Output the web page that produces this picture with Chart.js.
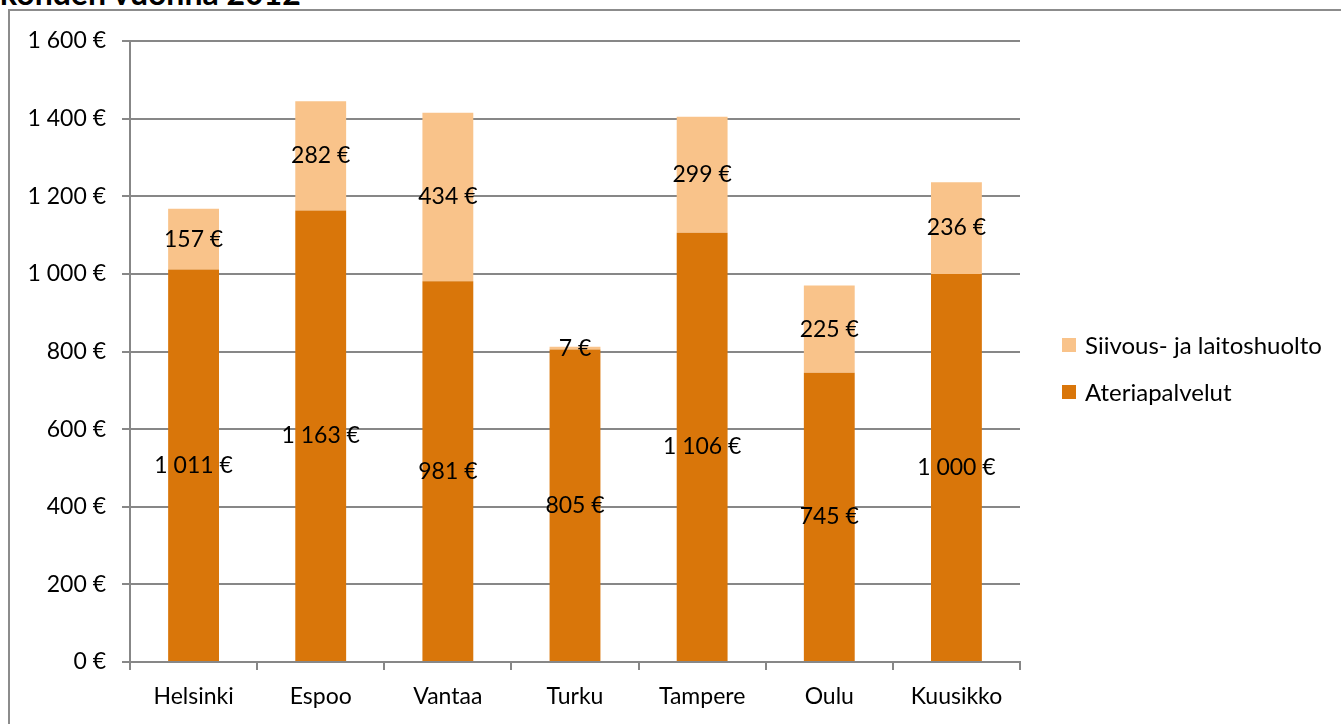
<!DOCTYPE html>
<html>
<head>
<meta charset="utf-8">
<script src="https://cdn.jsdelivr.net/npm/chart.js@4/dist/chart.umd.min.js"></script>
<style>
  body { margin: 0; background: #fff; font-family: Lato, "Open Sans", sans-serif; }
  #wrap { position: relative; width: 1341px; height: 724px; overflow: hidden; }
  #frame { position: absolute; left: 8px; top: 9px; width: 1400px; height: 800px; border: 2px solid #8c8c8c; box-sizing: border-box; }
  #title { position: absolute; left: 0; top: -26px; font: bold 32px/38px Lato, sans-serif; color: #000; white-space: nowrap; }
  #chartBox { position: absolute; left: 0; top: 0; width: 1341px; height: 724px; }
  #legend { position: absolute; left: 1062px; top: 330px; font: 24px/30px Lato, sans-serif; color: #000; }
  #legend div { height: 47px; display: flex; align-items: flex-start; }
  #legend span.box { display: inline-block; width: 14px; height: 14px; margin: 8px 9px 0 0; }
</style>
</head>
<body>
<div id="wrap">
  <div id="frame"></div>
  <div id="title">kohden vuonna 2012</div>
  <div id="chartBox"><canvas id="chartCosts" width="1341" height="724"></canvas></div>
  <div id="legend"></div>
</div>
<script>
const cities = ["Helsinki", "Espoo", "Vantaa", "Turku", "Tampere", "Oulu", "Kuusikko"]
const ateriapalvelut = [1011, 1163, 981, 805, 1106, 745, 1000]
const siivous = [157, 282, 434, 7, 299, 225, 236]
const yTicks = [0, 200, 400, 600, 800, 1000, 1200, 1400, 1600]

const ctx = document.getElementById("chartCosts")

function euro(v) {
    // "1 600 €" style, space as thousands separator
    return String(v).replace(/\B(?=(\d{3})+(?!\d))/g, " ") + " €"
}

// labels in the middle of each bar segment, like the excel original
const segmentLabels = {
    id: "segmentLabels",
    afterDatasetsDraw(chart) {
        const c = chart.ctx
        c.save()
        c.font = "23px Lato, sans-serif"
        c.fillStyle = "#000"
        c.textAlign = "center"
        c.textBaseline = "middle"
        chart.data.datasets.forEach((ds, i) => {
            chart.getDatasetMeta(i).data.forEach((bar, j) => {
                c.fillText(euro(ds.data[j]), bar.x, (bar.y + bar.base) / 2)
            })
        })
        c.restore()
    }
}

const grey = "#878787"

const costChart = new Chart(ctx, {
    type: "bar",
    data: {
        labels: cities,
        datasets: [
            { label: "Ateriapalvelut", data: ateriapalvelut, backgroundColor: "#D9760A" },
            { label: "Siivous- ja laitoshuolto", data: siivous, backgroundColor: "#F9C38A" }
        ]
    },
    options: {
        responsive: false,
        maintainAspectRatio: false,
        animation: false,
        layout: { padding: { left: 0, top: 41, right: 321, bottom: 0 } },
        datasets: { bar: { barPercentage: 0.4, categoryPercentage: 1.0 } },
        plugins: { legend: { display: false }, tooltip: { enabled: false } },
        scales: {
            x: {
                stacked: true,
                border: { color: grey, width: 2 },
                grid: { drawOnChartArea: false, drawTicks: true, tickLength: 8, color: grey, lineWidth: 2 },
                ticks: { color: "#000", font: { size: 23, family: "Lato" }, padding: 13 },
                afterFit(scale) { scale.height = 62 }
            },
            y: {
                stacked: true,
                min: 0,
                max: 1600,
                afterBuildTicks(scale) { scale.ticks = yTicks.map(v => ({ value: v })) },
                border: { color: grey, width: 2 },
                grid: { color: grey, lineWidth: 2, tickLength: 8 },
                ticks: { color: "#000", font: { size: 23, family: "Lato" }, padding: 16, callback: v => euro(v) },
                afterFit(scale) { scale.width = 130 }
            }
        }
    },
    plugins: [segmentLabels]
})

// legend in reverse order, as in the reference
const legendEl = document.getElementById("legend")
costChart.data.datasets.slice().reverse().forEach(ds => {
    const row = document.createElement("div")
    row.innerHTML = '<span class="box" style="background:' + ds.backgroundColor + '"></span>' + ds.label
    legendEl.appendChild(row)
})
</script>
</body>
</html>
